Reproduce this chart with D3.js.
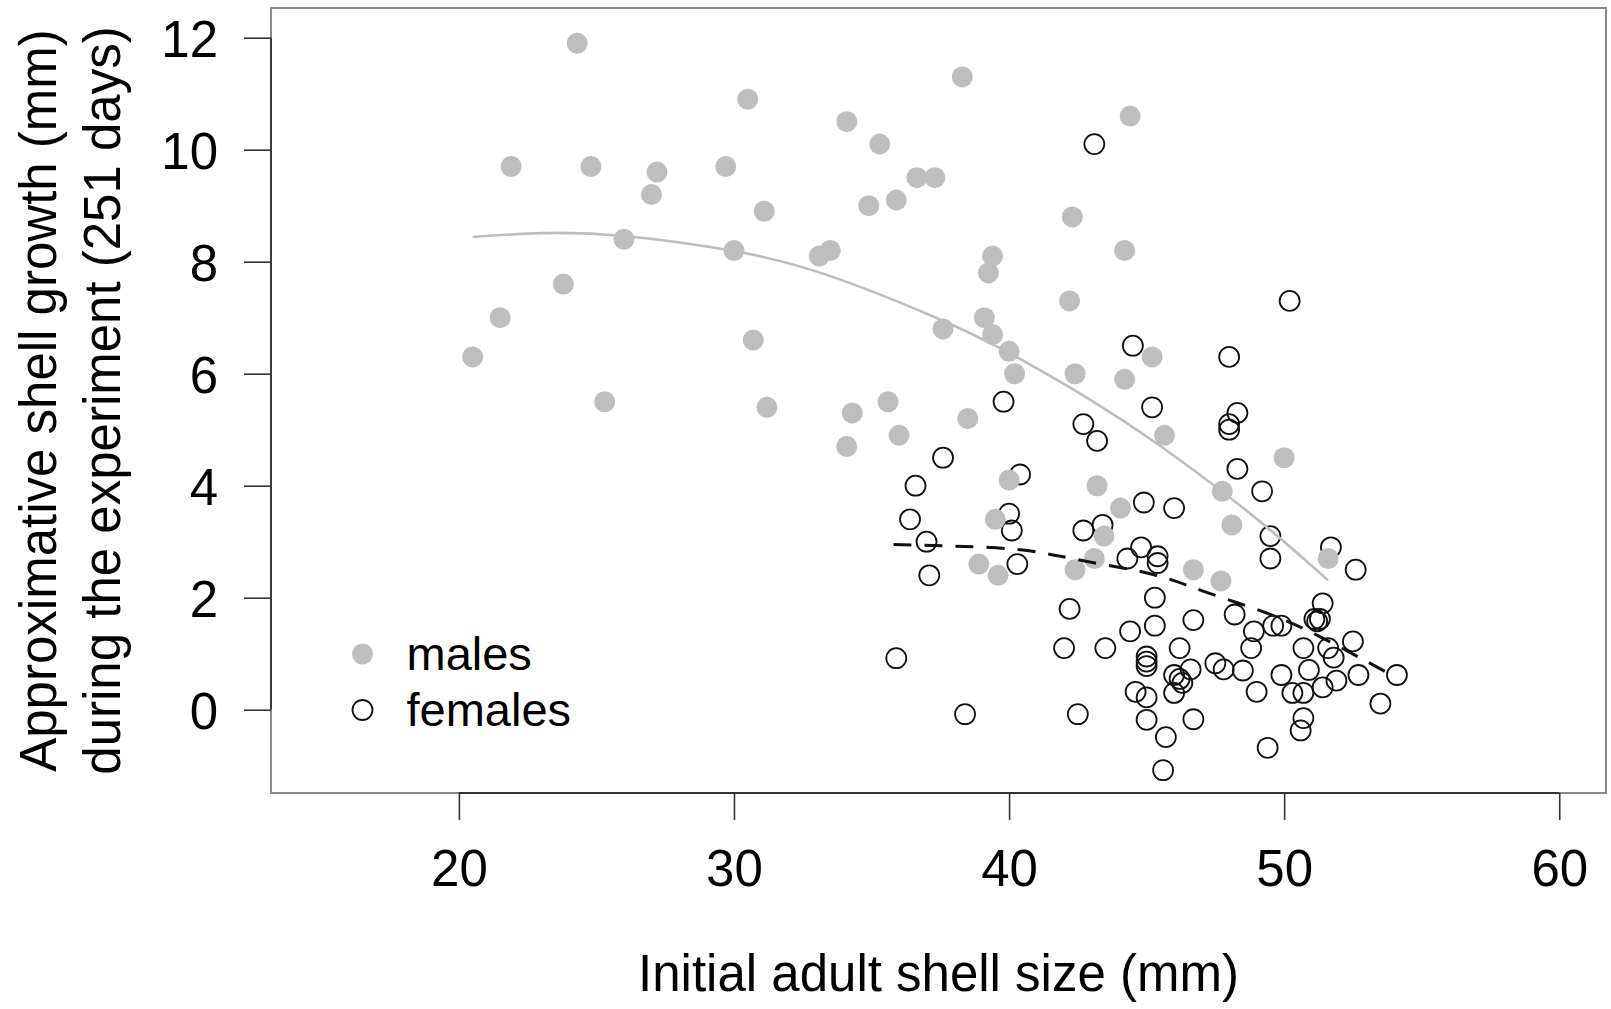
<!DOCTYPE html>
<html>
<head>
<meta charset="utf-8">
<script src="https://cdn.jsdelivr.net/npm/d3@7/dist/d3.min.js"></script>
<style>
  html, body { margin: 0; padding: 0; background: #fff; }
  svg { display: block; font-family: "Liberation Sans", Arial, Helvetica, sans-serif; }
</style>
</head>
<body>
<svg id="chart" width="1611" height="1009"></svg>
<script>
// Initial shell size (mm) and growth over 251 days (mm), males
const maleSize = [20.5, 21.5, 21.9, 23.8, 24.3, 24.8, 25.3, 26.0, 27.0, 27.2,
  29.7, 30.0, 30.5, 30.7, 31.1, 31.2, 33.1, 33.5, 34.1, 34.1,
  34.3, 34.9, 35.3, 35.6, 35.9, 36.0, 36.65, 37.3, 37.6, 38.3,
  38.5, 38.9, 39.1, 39.25, 39.4, 39.4, 39.5, 39.6, 40.0, 40.0,
  40.2, 42.3, 42.2, 42.4, 42.4, 43.1, 43.2, 43.45, 44.05, 44.2,
  44.2, 44.4, 45.2, 45.65, 46.7, 47.7, 47.75, 48.1, 50.0, 51.6];
const maleGrowth = [6.3, 7.0, 9.7, 7.6, 11.9, 9.7, 5.5, 8.4, 9.2, 9.6,
  9.7, 8.2, 10.9, 6.6, 8.9, 5.4, 8.1, 8.2, 10.5, 4.7,
  5.3, 9.0, 10.1, 5.5, 9.1, 4.9, 9.5, 9.5, 6.8, 11.3,
  5.2, 2.6, 7.0, 7.8, 8.1, 6.7, 3.4, 2.4, 6.4, 4.1,
  6.0, 8.8, 7.3, 6.0, 2.5, 2.7, 4.0, 3.1, 3.6, 5.9,
  8.2, 10.6, 6.3, 4.9, 2.5, 2.3, 3.9, 3.3, 4.5, 2.7];

// Females
const femaleSize = [43.1, 50.2, 44.5, 48.0, 39.8, 45.2, 48.3, 48.0, 48.0, 42.7,
  43.2, 37.6, 48.3, 40.4, 36.6, 49.2, 44.9, 46.0, 36.4, 40.0,
  40.1, 42.7, 43.4, 49.5, 51.7, 44.8, 37.0, 44.3, 45.4, 45.4,
  49.5, 40.3, 37.1, 52.6, 45.3, 51.4, 42.2, 48.2, 46.7, 51.1,
  51.2, 51.3, 45.3, 49.6, 49.9, 48.9, 44.4, 42.0, 43.5, 46.2,
  48.8, 50.7, 51.6, 51.8, 52.5, 45.0, 45.0, 45.0, 46.0, 46.2,
  46.6, 46.3, 46.0, 47.5, 47.8, 48.5, 49.9, 50.9, 51.9, 52.7,
  54.1, 49.0, 50.3, 50.7, 51.4, 53.5, 50.7, 50.6, 49.4, 35.9,
  38.4, 42.5, 45.0, 46.7, 45.7, 45.6, 44.6, 45.0];
const femaleGrowth = [10.1, 7.3, 6.5, 6.3, 5.5, 5.4, 5.3, 5.1, 5.0, 5.1,
  4.8, 4.5, 4.3, 4.2, 4.0, 3.9, 3.7, 3.6, 3.4, 3.5,
  3.2, 3.2, 3.3, 3.1, 2.9, 2.9, 3.0, 2.7, 2.74, 2.62,
  2.7, 2.6, 2.4, 2.5, 2.0, 1.9, 1.8, 1.7, 1.6, 1.62,
  1.58, 1.62, 1.5, 1.5, 1.5, 1.4, 1.4, 1.1, 1.1, 1.1,
  1.1, 1.1, 1.1, 0.93, 1.22, 0.95, 0.86, 0.78, 0.62, 0.55,
  0.72, 0.48, 0.3, 0.83, 0.72, 0.7, 0.62, 0.71, 0.52, 0.62,
  0.62, 0.32, 0.3, 0.3, 0.4, 0.11, -0.15, -0.37, -0.68, 0.92,
  -0.08, -0.08, -0.18, -0.17, -0.49, -1.08, 0.32, 0.22];

// Fitted trend for males (solid grey)
const maleFitSize = [20.5, 23.0, 26.0, 30.0, 33.4, 37.2, 40.0, 43.0, 45.5, 48.0, 50.0, 51.6];
const maleFitGrowth = [8.44, 8.51, 8.46, 8.19, 7.76, 7.03, 6.37, 5.52, 4.71, 3.80, 3.00, 2.31];

// Fitted trend for females (dashed black)
const femaleFitSize = [35.8, 38.0, 40.5, 42.8, 45.2, 47.1, 49.4, 51.4, 53.9];
const femaleFitGrowth = [2.95, 2.92, 2.85, 2.65, 2.42, 2.11, 1.72, 1.28, 0.62];

const xTicks = [20, 30, 40, 50, 60];
const yTicks = [0, 2, 4, 6, 8, 10, 12];

const legendLabels = ["males", "females"];
const xTitle = "Initial adult shell size (mm)";
const yTitle = ["Approximative shell growth (mm)", "during the experiment (251 days)"];

// ---- layout ----
const box = { left: 271, right: 1606, top: 8, bottom: 793 };
const svg = d3.select("#chart");
const grey = "#bebebe";

const x = d3.scaleLinear().domain([13.17, 61.70]).range([box.left, box.right]);
const y = d3.scaleLinear().domain([-1.487, 12.53]).range([box.bottom, box.top]);

// plot frame
svg.append("rect")
  .attr("x", box.left).attr("y", box.top)
  .attr("width", box.right - box.left).attr("height", box.bottom - box.top)
  .attr("fill", "none").attr("stroke", "#8a8a8a").attr("stroke-width", 2);

// axes
const tickLen = 27;
const yAxis = svg.append("g")
  .attr("transform", `translate(${box.left},0)`)
  .call(d3.axisLeft(y).tickValues(yTicks).tickSize(tickLen).tickPadding(26).tickFormat(d3.format("d")));
const xAxis = svg.append("g")
  .attr("transform", `translate(0,${box.bottom})`)
  .call(d3.axisBottom(x).tickValues(xTicks).tickSize(tickLen).tickPadding(30).tickFormat(d3.format("d")));

[xAxis, yAxis].forEach(g => {
  g.select(".domain").remove();
  g.selectAll(".tick line").attr("stroke", "#333").attr("stroke-width", 1.6);
  g.selectAll(".tick text")
    .attr("fill", "#000")
    .style("font-size", "51px")
    .style("font-family", "\"Liberation Sans\", Arial, sans-serif");
});
yAxis.selectAll(".tick text").attr("dy", "0.36em");

// axis lines spanning the tick range only
svg.append("line")
  .attr("x1", box.left).attr("x2", box.left)
  .attr("y1", y(yTicks[0])).attr("y2", y(yTicks[yTicks.length - 1]))
  .attr("stroke", "#333").attr("stroke-width", 1.8);
svg.append("line")
  .attr("y1", box.bottom).attr("y2", box.bottom)
  .attr("x1", x(xTicks[0])).attr("x2", x(xTicks[xTicks.length - 1]))
  .attr("stroke", "#333").attr("stroke-width", 1.8);

// axis titles
svg.append("text")
  .attr("x", (box.left + box.right) / 2).attr("y", 991)
  .attr("text-anchor", "middle")
  .style("font-size", "51px")
  .text(xTitle);

const yMid = (box.top + box.bottom) / 2;
[55.5, 120].forEach((bx, i) => {
  svg.append("text")
    .attr("transform", `translate(${bx},${yMid}) rotate(-90)`)
    .attr("text-anchor", "middle")
    .style("font-size", "51px")
    .text(yTitle[i]);
});

// points: females (open) first, males (filled grey) on top
const females = femaleSize.map((s, i) => ({ s, g: femaleGrowth[i] }));
const males = maleSize.map((s, i) => ({ s, g: maleGrowth[i] }));

svg.append("g").selectAll("circle").data(females).join("circle")
  .attr("cx", d => x(d.s)).attr("cy", d => y(d.g)).attr("r", 10)
  .attr("fill", "none").attr("stroke", "#111").attr("stroke-width", 1.8);

svg.append("g").selectAll("circle").data(males).join("circle")
  .attr("cx", d => x(d.s)).attr("cy", d => y(d.g)).attr("r", 10.5)
  .attr("fill", grey);

// trend lines
const line = d3.line().x(d => x(d[0])).y(d => y(d[1])).curve(d3.curveNatural);
svg.append("path")
  .attr("d", line(maleFitSize.map((s, i) => [s, maleFitGrowth[i]])))
  .attr("fill", "none").attr("stroke", grey).attr("stroke-width", 2.6);
svg.append("path")
  .attr("d", line(femaleFitSize.map((s, i) => [s, femaleFitGrowth[i]])))
  .attr("fill", "none").attr("stroke", "#111").attr("stroke-width", 3)
  .attr("stroke-dasharray", "18,13");

// legend
const legend = svg.append("g").attr("transform", "translate(362.5,654)");
legend.append("circle").attr("cx", 0).attr("cy", 0).attr("r", 10.5).attr("fill", grey);
legend.append("circle").attr("cx", 0).attr("cy", 56).attr("r", 10)
  .attr("fill", "none").attr("stroke", "#111").attr("stroke-width", 1.8);
legendLabels.forEach((t, i) => {
  legend.append("text")
    .attr("x", 44).attr("y", i * 56).attr("dy", "0.34em")
    .style("font-size", "47px")
    .text(t);
});
</script>
</body>
</html>
